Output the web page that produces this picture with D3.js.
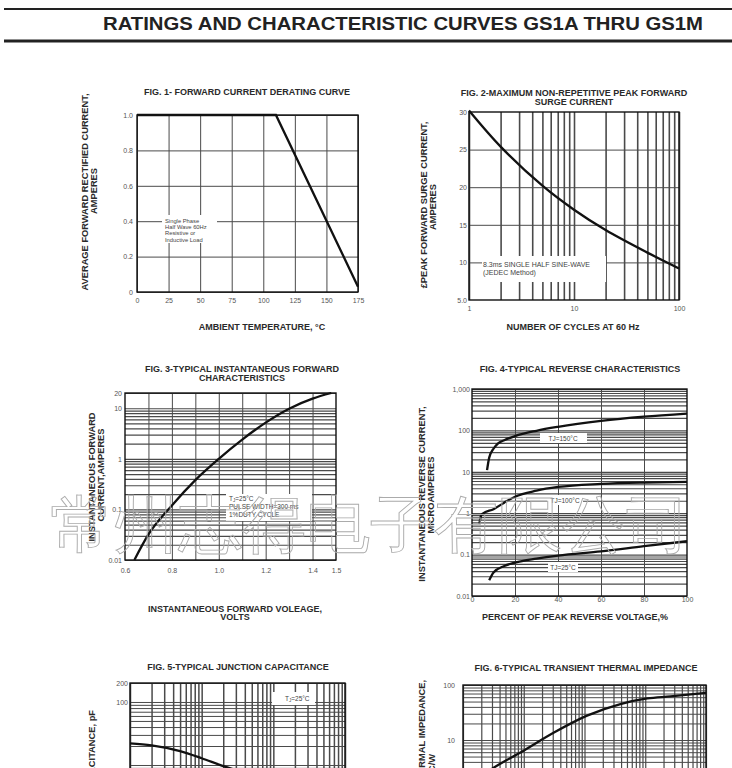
<!DOCTYPE html>
<html>
<head>
<meta charset="utf-8">
<script src="https://cdn.jsdelivr.net/npm/d3@7"></script>
<style>
  body { margin: 0; background: #fff; }
  svg { display: block; }
  text { font-family: "Liberation Sans", Arial, sans-serif; }
</style>
</head>
<body>
<svg width="732" height="768"></svg>
<script>
// ---- data ----
var fig1Temp = [0, 110, 175];
var fig1Current = [1.0, 1.0, 0.03];
var fig1XTicks = [0, 25, 50, 75, 100, 125, 150, 175];
var fig1YTicks = [0, 0.2, 0.4, 0.6, 0.8, 1.0];
var fig1YLabels = ["0", "0.2", "0.4", "0.6", "0.8", "1.0"];

var fig2Cycles = [1, 2, 5, 10, 20, 50, 100];
var fig2Surge = [30.2, 25.4, 20.2, 17.0, 14.3, 11.3, 9.2];
var fig2XTicks = [1, 10, 100];
var fig2YTicks = [5, 10, 15, 20, 25, 30];
var fig2YLabels = ["5.0", "10", "15", "20", "25", "30"];

var fig3Voltage = [0.64, 0.7, 0.8, 0.9, 1.0, 1.1, 1.2, 1.3, 1.4, 1.48];
var fig3Current = [0.01, 0.032, 0.12, 0.38, 1.0, 2.4, 5.2, 9.8, 15.5, 20];
var fig3XTicks = [0.6, 0.8, 1.0, 1.2, 1.4, 1.5];
var fig3XLabels = ["0.6", "0.8", "1.0", "1.2", "1.4", "1.5"];
var fig3XGrid = [0.7, 0.8, 0.9, 1.0, 1.1, 1.2, 1.3, 1.4];
var fig3YTicks = [0.01, 0.1, 1, 10, 20];
var fig3YLabels = ["0.01", "0.1", "1", "10", "20"];

var fig4Pct150 = [7, 8, 10, 12, 15, 20, 30, 40, 60, 80, 100];
var fig4Cur150 = [11, 22, 36, 48, 58, 73, 98, 122, 170, 215, 255];
var fig4Pct100 = [3.5, 4, 5, 10, 15, 20, 30, 40, 60, 80, 100];
var fig4Cur100 = [0.57, 0.82, 0.98, 1.25, 1.8, 2.5, 3.5, 4.3, 5.1, 5.5, 5.7];
var fig4Pct25 = [8, 10, 15, 20, 30, 40, 60, 80, 100];
var fig4Cur25 = [0.024, 0.037, 0.053, 0.064, 0.08, 0.095, 0.12, 0.16, 0.21];
var fig4XTicks = [0, 20, 40, 60, 80, 100];
var fig4XGrid = [20, 40, 60, 80];
var fig4YTicks = [0.01, 0.1, 1, 10, 100, 1000];
var fig4YLabels = ["0.01", "0.1", "1", "10", "100", "1,000"];

var fig5Voltage = [0.1, 0.2, 0.5, 1, 2, 5, 10, 20, 50, 100];
var fig5Cap = [22, 20.5, 16.6, 12.8, 9.6, 7, 5.5, 4.3, 3.2, 2.6];
var fig5YTicks = [1, 100, 200];
var fig5YLabels = ["1", "100", "200"];

var fig6Time = [0.01, 0.02, 0.033, 0.09, 0.32, 1.1, 3.9, 10.8, 26, 100];
var fig6Imp = [1.3, 2.2, 3.2, 6.0, 13.8, 27.7, 45, 57, 62, 72];
var fig6YTicks = [1, 10, 100];
var fig6YLabels = ["1", "10", "100"];

var svg = d3.select("svg");
svg.append("rect").attr("width", 732).attr("height", 768).attr("fill", "#fff");

// ---- page header ----
svg.append("line").attr("x1", 4).attr("x2", 732).attr("y1", 9).attr("y2", 9)
    .attr("stroke", "#222").attr("stroke-width", 2);
svg.append("line").attr("x1", 4).attr("x2", 732).attr("y1", 41).attr("y2", 41)
    .attr("stroke", "#222").attr("stroke-width", 3.2);
svg.append("text")
    .attr("x", 103).attr("y", 30)
    .attr("font-size", 18).attr("font-weight", "bold").attr("fill", "#222")
    .attr("textLength", 600).attr("lengthAdjust", "spacingAndGlyphs")
    .text("RATINGS AND CHARACTERISTIC CURVES GS1A THRU GS1M");

function txt(g, s, x, y, size, bold, anchor) {
  return g.append("text")
      .attr("x", x).attr("y", y)
      .attr("font-size", size)
      .attr("font-weight", bold ? "bold" : "normal")
      .attr("text-anchor", anchor || "middle")
      .attr("fill", bold ? "#2a2a2a" : "#444")
      .text(s);
}

function vtxt(g, s, x, y, size, anchor) {
  return g.append("text")
      .attr("transform", "translate(" + x + "," + y + ") rotate(-90)")
      .attr("font-size", size)
      .attr("font-weight", "bold")
      .attr("text-anchor", anchor || "middle")
      .attr("fill", "#2a2a2a")
      .text(s);
}

function panel(p) {
  var g = svg.append("g");
  var x = p.x, y = p.y;
  var x0 = x.range()[0], x1 = x.range()[1];
  var yb = y.range()[0], yt = y.range()[1];

  g.append("g").attr("class", "grid")
      .attr("transform", "translate(0," + yb + ")")
      .call(d3.axisBottom(x).tickValues(p.gridX).tickSize(-(yb - yt)).tickFormat(""))
      .selectAll("line").attr("stroke", "#4a4a4a").attr("stroke-width", p.gridXW || 1);
  g.append("g").attr("class", "grid")
      .attr("transform", "translate(" + x0 + ",0)")
      .call(d3.axisLeft(y).tickValues(p.gridY).tickSize(-(x1 - x0)).tickFormat(""))
      .selectAll("line").attr("stroke", "#4a4a4a").attr("stroke-width", p.gridYW || 1);
  g.selectAll(".grid .domain").remove();

  (p.boxes || []).forEach(function(b) {
    g.append("rect").attr("x", b[0]).attr("y", b[1]).attr("width", b[2]).attr("height", b[3])
        .attr("fill", "#fff");
  });

  g.append("rect")
      .attr("x", x0).attr("y", yt).attr("width", x1 - x0).attr("height", yb - yt)
      .attr("fill", "none").attr("stroke", "#111").attr("stroke-width", 1.4);

  var line = d3.line()
      .x(function(d) { return x(d[0]); })
      .y(function(d) { return y(d[1]); })
      .curve(p.curve || d3.curveMonotoneX);
  p.series.forEach(function(s) {
    g.append("path")
        .datum(d3.zip(s[0], s[1]))
        .attr("d", line)
        .attr("fill", "none")
        .attr("stroke", "#111")
        .attr("stroke-width", 2.3);
  });

  var ya = g.append("g")
      .attr("transform", "translate(" + (x0 - p.yPad) + ",0)")
      .call(d3.axisLeft(y).tickValues(p.yTicks).tickSize(0).tickPadding(0)
        .tickFormat(function(d, i) { return p.yLabels[i]; }));
  var xa = g.append("g")
      .attr("transform", "translate(0," + (yb + p.xPad) + ")")
      .call(d3.axisBottom(x).tickValues(p.xTicks).tickSize(0).tickPadding(0)
        .tickFormat(function(d, i) { return p.xLabels ? p.xLabels[i] : d; }));
  [ya, xa].forEach(function(a) {
    a.select(".domain").remove();
    a.attr("font-family", null).attr("font-size", null);
    a.selectAll("text").attr("font-size", 7).attr("fill", "#555");
  });
  return g;
}

// ---- FIG 1 ----
var g1 = panel({
  x: d3.scaleLinear().domain([0, 175]).range([137, 358]),
  y: d3.scaleLinear().domain([0, 1]).range([292, 115]),
  gridX: fig1XTicks, gridY: fig1YTicks,
  xTicks: fig1XTicks, yTicks: fig1YTicks, yLabels: fig1YLabels,
  yPad: 4, xPad: 6,
  curve: d3.curveLinear,
  boxes: [[162, 215, 55, 28]],
  series: [[fig1Temp, fig1Current]]
});
txt(g1, "FIG. 1- FORWARD CURRENT DERATING CURVE", 247, 95, 9, true);
txt(g1, "AMBIENT TEMPERATURE, °C", 262, 330, 9, true);
vtxt(g1, "AVERAGE FORWARD RECTIFIED CURRENT,", 88, 192, 9.3);
vtxt(g1, "AMPERES", 97, 191, 9.3);
["Single Phase", "Half Wave 60Hz", "Resistive or", "Inductive Load"].forEach(function(s, i) {
  txt(g1, s, 165, 223 + i * 6.2, 5.8, false, "start");
});

// ---- FIG 2 ----
var x2 = d3.scaleLog().domain([1, 100]).range([469, 679]);
var g2 = panel({
  x: x2,
  y: d3.scaleLinear().domain([5, 30]).range([300, 112]),
  gridX: x2.ticks(), gridY: [10, 15, 20, 25], gridXW: 1.6,
  xTicks: fig2XTicks, yTicks: fig2YTicks, yLabels: fig2YLabels,
  yPad: 2, xPad: 6,
  curve: d3.curveCatmullRom,
  boxes: [[482, 256, 124, 26]],
  series: [[fig2Cycles, fig2Surge]]
});
txt(g2, "FIG. 2-MAXIMUM NON-REPETITIVE PEAK FORWARD", 574, 96, 9, true);
txt(g2, "SURGE CURRENT", 574, 105, 9, true);
txt(g2, "NUMBER OF CYCLES AT 60 Hz", 573, 330, 9, true);
vtxt(g2, "£PEAK  FORWARD SURGE CURRENT,", 427, 205, 9.3);
vtxt(g2, "AMPERES", 436, 207, 9.3);
txt(g2, "8.3ms SINGLE HALF SINE-WAVE", 483, 267, 7, false, "start");
txt(g2, "(JEDEC Method)", 483, 275, 7, false, "start");

// ---- FIG 3 ----
var y3 = d3.scaleLog().domain([0.01, 20]).range([560, 393]);
var g3 = panel({
  x: d3.scaleLinear().domain([0.6, 1.5]).range([125, 336]),
  y: y3,
  gridX: fig3XGrid, gridY: y3.ticks(), gridYW: 1.2,
  xTicks: fig3XTicks, xLabels: fig3XLabels, yTicks: fig3YTicks, yLabels: fig3YLabels,
  yPad: 3, xPad: 8,
  boxes: [[226, 494, 86, 27]],
  series: [[fig3Voltage, fig3Current]]
});
txt(g3, "FIG. 3-TYPICAL INSTANTANEOUS FORWARD", 242, 372, 9, true);
txt(g3, "CHARACTERISTICS", 242, 381, 9, true);
txt(g3, "INSTANTANEOUS FORWARD VOLEAGE,", 235, 612, 9, true);
txt(g3, "VOLTS", 235, 620, 9, true);
vtxt(g3, "INSTANTANEOUS FORWARD", 95, 477, 9.3);
vtxt(g3, "CURRENT,AMPERES", 104, 475, 9.3);
var t3 = txt(g3, "T", 229, 501, 6.5, false, "start");
t3.append("tspan").attr("font-size", 4.5).attr("dy", 1).text("J");
t3.append("tspan").attr("dy", -1).text("=25°C");
txt(g3, "PULSE WIDTH=300 ms", 229, 509, 6.5, false, "start");
txt(g3, "1%DUTY CYCLE", 229, 517, 6.5, false, "start");

// ---- FIG 4 ----
var y4 = d3.scaleLog().domain([0.01, 1000]).range([596, 389]);
var g4 = panel({
  x: d3.scaleLinear().domain([0, 100]).range([472, 687]),
  y: y4,
  gridX: fig4XGrid, gridY: y4.ticks(), gridYW: 1.2,
  xTicks: fig4XTicks, yTicks: fig4YTicks, yLabels: fig4YLabels,
  yPad: 2, xPad: 1,
  boxes: [[540, 433, 47, 10], [547, 495, 36, 10], [548, 562, 30, 10]],
  series: [[fig4Pct150, fig4Cur150], [fig4Pct100, fig4Cur100], [fig4Pct25, fig4Cur25]]
});
txt(g4, "FIG. 4-TYPICAL REVERSE CHARACTERISTICS", 580, 372, 9, true);
txt(g4, "PERCENT OF PEAK REVERSE VOLTAGE,%", 575, 620, 9, true);
vtxt(g4, "INSTANTANEOUS REVERSE CURRENT,", 425, 494, 9.3);
vtxt(g4, "MICROAMPERES", 434, 495, 9.3);
txt(g4, "TJ=150°C", 563, 440.5, 6.5, false);
txt(g4, "TJ=100°C", 565, 502.5, 6.5, false);
txt(g4, "TJ=25°C", 563, 569.5, 6.5, false);

// ---- FIG 5 (cut by page edge) ----
var x5 = d3.scaleLog().domain([0.1, 100]).range([130, 345]);
var y5 = d3.scaleLog().domain([1, 200]).range([828, 683]);
var g5 = panel({
  x: x5, y: y5,
  gridX: x5.ticks(), gridY: y5.ticks(), gridXW: 1.5,
  xTicks: [0.1, 1, 10, 100], yTicks: fig5YTicks, yLabels: fig5YLabels,
  yPad: 2, xPad: 6,
  boxes: [[272, 692, 43, 13]],
  series: [[fig5Voltage, fig5Cap]]
});
txt(g5, "FIG. 5-TYPICAL JUNCTION CAPACITANCE", 238, 670, 9, true);
vtxt(g5, "JUNCTION CAPACITANCE, pF", 95, 710, 9.3, "end");
var t5 = txt(g5, "T", 285, 701, 6.5, false, "start");
t5.append("tspan").attr("font-size", 4.5).attr("dy", 1).text("J");
t5.append("tspan").attr("dy", -1).text("=25°C");

// ---- FIG 6 (cut by page edge) ----
var x6 = d3.scaleLog().domain([0.01, 100]).range([463, 706]);
var y6 = d3.scaleLog().domain([1, 100]).range([795, 685]);
var g6 = panel({
  x: x6, y: y6,
  gridX: x6.ticks(), gridY: y6.ticks(), gridXW: 1.2,
  xTicks: [0.01, 0.1, 1, 10, 100], yTicks: fig6YTicks, yLabels: fig6YLabels,
  yPad: 8, xPad: 6,
  series: [[fig6Time, fig6Imp]]
});
txt(g6, "FIG. 6-TYPICAL TRANSIENT THERMAL IMPEDANCE", 586, 671, 9, true);
vtxt(g6, "TRANSIENT THERMAL IMPEDANCE,", 425, 680, 9.3, "end");
vtxt(g6, "°C/W", 435, 754, 9.3, "end");

// ---- watermark ----
svg.append("text")
    .attr("x", 50).attr("y", 546)
    .attr("font-family", "Noto Sans CJK SC")
    .attr("font-size", 62)
    .attr("font-weight", 300)
    .attr("fill", "none")
    .attr("stroke", "#ababab")
    .attr("stroke-width", 0.9)
    .attr("textLength", 640)
    .attr("lengthAdjust", "spacingAndGlyphs")
    .text("常州志得电子有限公司");
</script>
</body>
</html>
